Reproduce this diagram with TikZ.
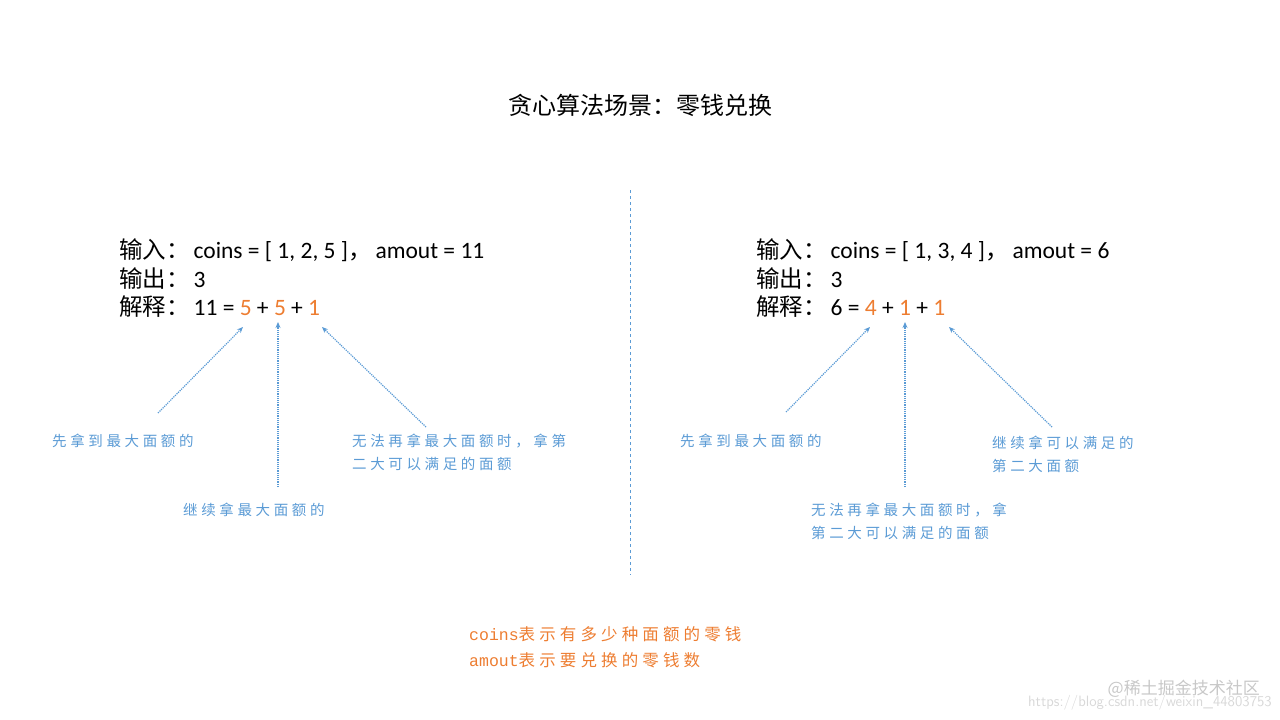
\documentclass[tikz,border=0pt]{standalone}
\usepackage{fontspec}
\setmainfont{Carlito}
\newfontfamily\cjk{Noto Sans CJK SC}
\newfontfamily\cjksp[LetterSpace=25]{Noto Sans CJK SC}
\newfontfamily\monof{Liberation Mono}
\usetikzlibrary{arrows.meta}
\definecolor{ann}{RGB}{91,155,213}
\definecolor{org}{RGB}{237,125,49}
\definecolor{wm}{RGB}{200,200,200}
\newcommand{\Ck}[1]{{\cjk #1}}
\newcommand{\Or}[1]{\textcolor{org}{#1}}
\tikzset{
 main/.style={anchor=west,inner sep=0pt,font=\fontsize{23.5}{29}\selectfont},
 note/.style={anchor=west,inner sep=0pt,align=left,text=ann,font=\cjksp\fontsize{14.5}{23}\selectfont},
 ptr/.style={draw=ann,densely dotted,line width=1.2pt,-{Stealth[length=6pt,width=5pt]}},
}
\begin{document}
\begin{tikzpicture}[x=1pt,y=-1pt]
\useasboundingbox (0,0) rectangle (1280,720);
\node[inner sep=0pt,font=\cjk\fontsize{24}{28}\selectfont] (title) at (640,105) {贪心算法场景：零钱兑换};
\draw[ann,dashed,line width=0.9pt] (630,190) -- (630,575);
% left
\node[main] (l1) at (119,250) {\Ck{输入：}\,coins = [ 1, 2, 5 ]\Ck{，}\,amout = 11};
\node[main] (l2) at (119,279) {\Ck{输出：}\,3};
\node[main] (l3) at (119,307) {\Ck{解释：}\,11 = \Or{5} + \Or{5} + \Or{1}};
\coordinate (la1) at (243,327); \coordinate (la2) at (278,322); \coordinate (la3) at (322,327);
\coordinate (ls1) at (158,413); \coordinate (ls2) at (278,487); \coordinate (ls3) at (426,427);
\draw[ptr] (ls1) -- (la1); \draw[ptr] (ls2) -- (la2); \draw[ptr] (ls3) -- (la3);
\node[note] (ln1) at (52,441) {先拿到最大面额的};
\node[note] (ln2) at (183,510) {继续拿最大面额的};
\node[note] (ln3) at (352,452) {无法再拿最大面额时，拿第\\二大可以满足的面额};
% right
\node[main] (r1) at (756,250) {\Ck{输入：}\,coins = [ 1, 3, 4 ]\Ck{，}\,amout = 6};
\node[main] (r2) at (756,279) {\Ck{输出：}\,3};
\node[main] (r3) at (756,307) {\Ck{解释：}\,6 = \Or{4} + \Or{1} + \Or{1}};
\coordinate (ra1) at (870,327); \coordinate (ra2) at (905,322); \coordinate (ra3) at (949,327);
\coordinate (rs1) at (786,412); \coordinate (rs2) at (905,487); \coordinate (rs3) at (1052,427);
\draw[ptr] (rs1) -- (ra1); \draw[ptr] (rs2) -- (ra2); \draw[ptr] (rs3) -- (ra3);
\node[note] (rn1) at (680,441) {先拿到最大面额的};
\node[note] (rn3) at (992,454) {继续拿可以满足的\\第二大面额};
\node[note] (rn2) at (811,521) {无法再拿最大面额时，拿\\第二大可以满足的面额};
% bottom
\node[anchor=west,inner sep=0pt,align=left,text=org,font=\fontsize{16.5}{26}\selectfont] (bt) at (469,647)
 {{\monof coins}{\cjksp 表示有多少种面额的零钱}\\{\monof amout}{\cjksp 表示要兑换的零钱数}};
\node[anchor=east,inner sep=0pt,text=wm,font=\cjk\fontsize{17}{20}\selectfont] (wm1) at (1260,689) {@稀土掘金技术社区};
\node[anchor=east,inner sep=0pt,text=wm!70,font=\sffamily\fontsize{15}{18}\selectfont] (wm2) at (1272,703) {https://blog.csdn.net/weixin\_44803753};
\end{tikzpicture}
\end{document}
